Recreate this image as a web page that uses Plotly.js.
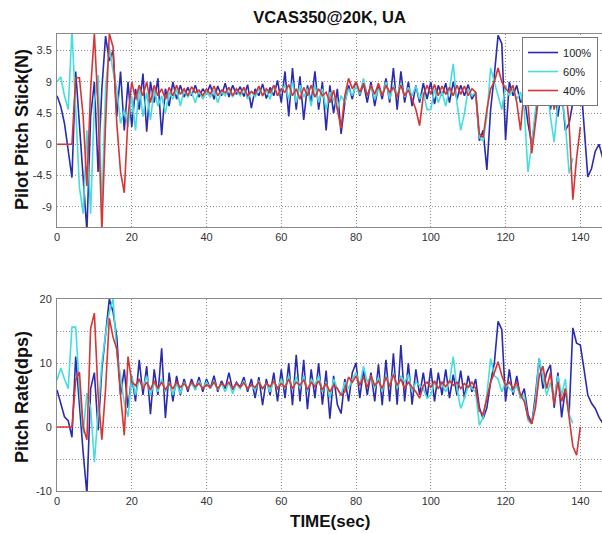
<!DOCTYPE html>
<html>
<head>
<meta charset="utf-8">
<script src="https://cdn.plot.ly/plotly-3.0.1.min.js"></script>
<style>html,body{margin:0;padding:0;background:#fff;}#chart{width:602px;height:534px;}</style>
</head>
<body>
<div id="chart"></div>
<script>
// Sampling of the recorded signals (seconds)
const timeStart = 0;
const timeStep = 1;

const seriesNames = ["100%", "60%", "40%"];
const seriesColors = ["#2b2bb0", "#45dede", "#d83434"];

const xTickVals = [0, 20, 40, 60, 80, 100, 120, 140];
const stickTickVals = [-9, -4.5, 0, 4.5, 9, 13.5];
const stickTickText = ["-9", "-4.5", "0", "4.5", "9", "3.5"];
const rateTickVals = [-10, -5, 0, 5, 10, 15, 20];
const rateTickText = ["-10", "", "0", "", "10", "", "20"];

// Pilot Pitch Stick (N)
const stickBlue = [7,5.5,3,-1,-4.8,10.5,3,-6,-12.5,4,9,-4,8,15.6,12,13.5,4,10.5,2,9,
  2.5,8,5,10.2,1.8,9,6,9.5,1.3,8,5.5,9,6.5,8.5,6.8,8.2,7,8.5,6.8,8,
  7.2,8.6,6.5,8.4,7,8.8,6.8,8.5,7.2,8.3,6.9,8.6,5.2,8,7,8.7,6.6,8.2,7,9.2,
  6,10.5,4,11,5,9.8,3.5,8.5,6,10.5,5,9,2,8.5,4.5,8,1.5,6,8.5,6.5,
  9,7,8.8,6,9,5.5,8.5,6.5,9.5,6,11,5,10.5,6,9,5.5,8.5,6,8.8,6.5,
  9,5.8,8.5,7,8.8,6,9,6.5,8.5,7,8.6,6.5,7.5,0.5,2,-3.7,5,10,15.7,14.5,
  0.6,9,7,8.5,6,7,3,0,4,8,6,9.5,5,8.5,4,8,2,3,6,9.5,
  10,3,-4.7,-3.5,-1,0,-2];
const stickCyan = [9,9.7,7,5,16.5,6,-6.2,-10,2,-10,6,10,-9.2,8,14,10.5,8,3,5,2.5,
  7,2,8.5,4,7.5,3.5,8,5.5,7,4.5,7.5,6.5,8,5.5,7.8,6.8,7.5,6,7.8,6.5,
  7.5,6.8,7.8,6,7.6,7,8.2,6.8,7.8,7,8,6.5,7.6,6.8,8,7,7.8,6.5,8.5,7,
  7.8,8.5,6.5,9,6,8.5,6.8,8,5.5,8.6,6,8,5,7.5,6.5,5,7,6,8,7,
  8.5,7.2,9.5,7,8.5,6.5,8,7,9,6.5,8.5,7,8.8,6.8,8.2,7,8.4,6.5,7.5,5,
  5,8,6,7.5,5.5,8,11.6,6,2,4.5,8,7,7.5,1,0.5,4,11,9,7,5,
  8.5,7,8,6.5,7.5,5,-4,0,5,8,6.5,9,4,0.3,6,7,3,-4.2,-2];
const stickRed = [0,0,0,0,0,9.6,9.6,4,-6,8,16,5,-12.5,3,16,14,3,-4,-7,4,
  9,6.5,8.5,7,9,6,8.5,7,8,6.5,8.2,7,8.5,7.2,8,7,8.3,7.4,7.8,7,
  8,7.2,8.4,7,7.8,7.4,8.2,7,8,7.3,8.2,7,7.6,7.2,8.4,7,8,7.4,8.5,7,
  8,7.5,8.6,7,8,6.5,8.2,7,8.5,6.8,8,7,7.5,6,7.8,5,2.3,7,9.5,8,
  9,7.5,8.8,7,8.5,7.2,8.8,7,8.5,7.5,8.2,6.8,8.5,7,7.8,6.5,5,2.7,7,8.5,
  7.2,8.6,7,8.4,7.2,8.2,7,8.5,7.2,8.4,7,8,7.5,1.5,1,5,8,9,11,9,
  8,7.5,8.5,6,2,8,6,-1.3,3,7.5,9,6,8.5,5,8,5.5,8.5,3,-8,-2,
  2.5];

// Pitch Rate (dps)
const rateBlue = [5.8,3.5,1.6,1,-1.6,11,3,-4,-10.5,6,8.5,-0.5,9,15,20,18,14,5,9,3,
  8,4,10.5,5,9.5,2,9,5,12.3,1.4,8.5,4,8,5,7.5,5.5,7.5,5.8,7.8,5.5,
  7.5,6,8,5.5,7.2,6,8.5,5.8,7,6.2,7.8,5.5,7.5,4.5,7.8,3.4,7.5,5,8.5,4,
  9,4.5,10,3.4,11.3,4,10.5,2.8,9,4.5,10,3.5,8.8,1.3,8,3.5,2.1,7.5,4,8.5,
  10,4.5,9,5,8.5,4,9.8,3.4,10.5,4,11.5,3.5,12.8,4,10,3.5,9,5,8.5,4.5,
  9.2,4,8.5,5,9,4.5,8.2,5,8.8,4.5,8,5.5,7.5,3,1.3,3,7,10,16.5,15.2,
  4,9,5,8,4.5,6,2,0.5,5,10.7,6,8.5,9.7,3,8.5,1.5,6,2,15.5,13.1,
  12.8,9,5,3.7,2.9,1.5,0.6];
const rateCyan = [7.3,9.2,7.5,6,15.6,15.6,6,-1,5.3,3,-5.5,3,10,14.5,18,20,11.5,8,3.7,1.6,
  8,5,7.5,6,8,5,7,5.5,7.5,5.5,7,5,6.8,5.2,7,6,6.8,5.8,7.2,6,
  7,6,7.2,5.8,6.8,5.5,7,5.2,6.8,6,7.2,6,6.5,5.8,7.2,6,6.8,5.5,7.2,6,
  7.5,6,8,5.8,7.8,6,8,5.5,7.5,6.5,8,5.5,7,4.5,7.5,6,5,7,6,7.5,
  8.5,6.5,9.5,7,8,6,7.8,5.5,8,6.5,8.5,6,8,7,8.2,5.5,7,6.5,6,4.5,
  5,7,6,6.8,5.5,7,11,6,2.9,4.5,6.5,6,5.5,0.3,1.5,5,10.7,8,7.5,5.5,
  7,6,5.5,6.5,4.5,5,1,0.5,4,10.7,8,5,7,4,8,5,7.5,2,0.6];
const rateRed = [0,0,0,0,0,7.3,8.6,0,-2,15.4,17.8,5,-2,6,17,14,12.2,5,-1.3,11,
  7,6.5,7.5,6,7,5.8,7.2,6,7,5.8,6.8,6,7,6.2,6.8,6,7,6.3,6.8,6,
  6.6,6.2,7,6,6.8,6.4,7,6,6.8,6.2,6.9,6,6.6,6.2,7,6,6.8,6.3,7.2,6,
  6.8,6.2,7.5,6,7,6.5,7.4,5.8,7,6.3,7.2,5.8,6.8,5.5,6.5,6,5,5.5,7.8,7,
  8,6.5,7.8,6.2,8,6.5,7.2,6,7.8,6.3,8.2,6.5,7.5,6,7,6.2,5.5,4.5,6.5,7,
  6.2,7.2,6,7,6.3,7.2,6.5,7,6,6.8,6.2,7,6,2.5,2,4.5,7,8.5,10.2,8,
  6.5,7,6,7,5,4,1.5,0.5,3,8,9.5,6,8.5,3.5,7,4,6,1.5,-3,-4.4,
  0];

function timesFor(values) {
  return values.map((_, i) => timeStart + i * timeStep);
}

const stickSeries = [stickBlue, stickCyan, stickRed];
const rateSeries = [rateBlue, rateCyan, rateRed];

const traces = [];
stickSeries.forEach((vals, k) => {
  traces.push({
    x: timesFor(vals), y: vals, type: "scatter", mode: "lines",
    name: seriesNames[k], legendgroup: seriesNames[k],
    line: {color: seriesColors[k], width: 1.6},
    xaxis: "x", yaxis: "y", showlegend: true
  });
});
rateSeries.forEach((vals, k) => {
  traces.push({
    x: timesFor(vals), y: vals, type: "scatter", mode: "lines",
    name: seriesNames[k], legendgroup: seriesNames[k],
    line: {color: seriesColors[k], width: 1.6},
    xaxis: "x2", yaxis: "y2", showlegend: false
  });
});

const fontFam = "Liberation Sans, Arial, sans-serif";
const gridStyle = {
  showgrid: true, gridcolor: "#8c8c8c", griddash: "1px,2px", gridwidth: 1,
  showline: true, linecolor: "#8a8a8a", linewidth: 1, mirror: true,
  zeroline: false, ticks: "", tickfont: {family: fontFam, size: 11, color: "#333"}
};

const layout = {
  width: 602, height: 534,
  margin: {l: 57, r: 0, t: 34, b: 43},
  paper_bgcolor: "#fff", plot_bgcolor: "#fff",
  showlegend: true,
  title: {
    text: "VCAS350@20K, UA",
    font: {family: fontFam, size: 16.5, color: "#111", weight: "bold"},
    x: 0.5, xref: "paper", y: 1 - 17 / 534, yref: "container", yanchor: "middle"
  },
  xaxis: Object.assign({}, gridStyle, {
    domain: [0, 1], anchor: "y", range: [0, 145.8],
    tickvals: xTickVals
  }),
  yaxis: Object.assign({}, gridStyle, {
    domain: [0.5777, 1], anchor: "x", range: [-11.93, 15.9],
    tickvals: stickTickVals, ticktext: stickTickText, ticklabelstandoff: 2
  }),
  xaxis2: Object.assign({}, gridStyle, {
    domain: [0, 1], anchor: "y2", range: [0, 145.8],
    tickvals: xTickVals
  }),
  yaxis2: Object.assign({}, gridStyle, {
    domain: [0, 0.4201], anchor: "x2", range: [-10, 20],
    tickvals: rateTickVals, ticktext: rateTickText, ticklabelstandoff: 2
  }),
  legend: {
    x: 0.9927, xanchor: "right", y: 0.9934, yanchor: "top",
    bgcolor: "#fff", bordercolor: "#777", borderwidth: 1,
    font: {family: fontFam, size: 11, color: "#222"},
    itemwidth: 30, tracegroupgap: 0
  },
  annotations: [
    {text: "Pilot Pitch Stick(N)", xref: "paper", yref: "paper",
     x: (22 - 57) / 545, y: (491 - 130) / 457, textangle: -90, showarrow: false,
     xanchor: "center", yanchor: "middle",
     font: {family: fontFam, size: 18, color: "#111", weight: "bold"}},
    {text: "Pitch Rate(dps)", xref: "paper", yref: "paper",
     x: (22 - 57) / 545, y: (491 - 397) / 457, textangle: -90, showarrow: false,
     xanchor: "center", yanchor: "middle",
     font: {family: fontFam, size: 18, color: "#111", weight: "bold"}},
    {text: "TIME(sec)", xref: "paper", yref: "paper",
     x: (330 - 57) / 545, y: (491 - 521) / 457, showarrow: false,
     xanchor: "center", yanchor: "middle",
     font: {family: fontFam, size: 17, color: "#111", weight: "bold"}}
  ]
};

Plotly.newPlot("chart", traces, layout, {displayModeBar: false, staticPlot: true});
</script>
</body>
</html>
